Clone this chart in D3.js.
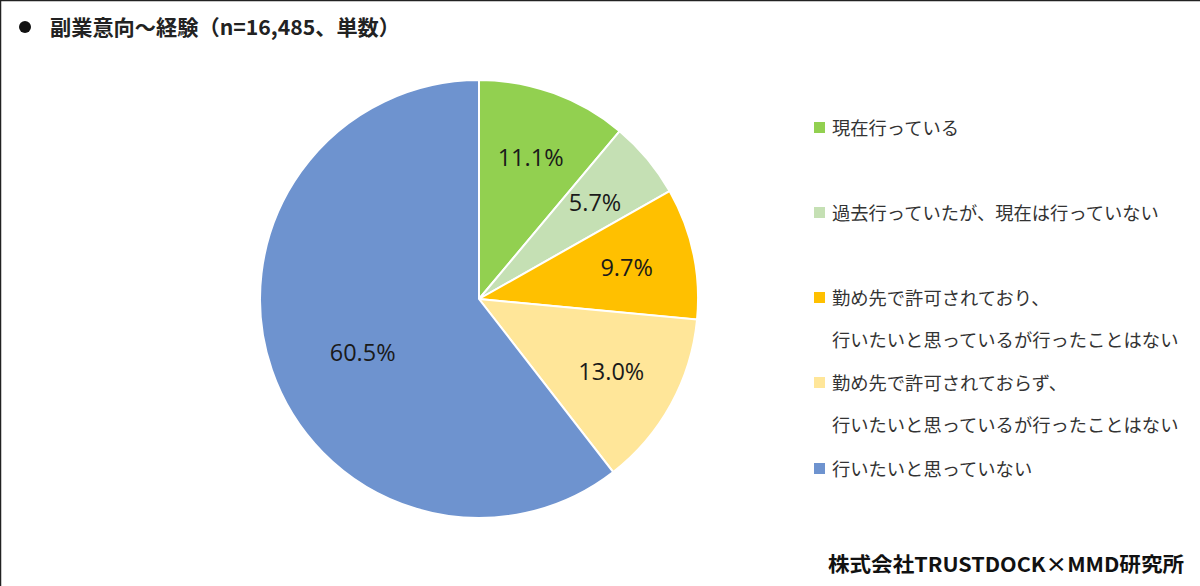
<!DOCTYPE html>
<html>
<head>
<meta charset="utf-8">
<script src="https://cdn.jsdelivr.net/npm/d3@7"></script>
<style>
  html, body { margin: 0; padding: 0; background: #fff; }
  svg { display: block; }
</style>
</head>
<body>
<svg id="chart" width="1200" height="586"></svg>
<script>
// data
const categories = [
    "現在行っている",
    "過去行っていたが、現在は行っていない",
    "勤め先で許可されており、\n行いたいと思っているが行ったことはない",
    "勤め先で許可されておらず、\n行いたいと思っているが行ったことはない",
    "行いたいと思っていない"
];
const values = [11.1, 5.7, 9.7, 13.0, 60.5];
const colors = ["#92d050", "#c5e0b4", "#ffc000", "#ffe699", "#6e93cf"];

const titleText = "副業意向～経験（n=16,485、単数）";
const sourceText = "株式会社TRUSTDOCK×MMD研究所";

const jp = "'Noto Sans CJK JP', 'Noto Sans', sans-serif";

const svg = d3.select("#chart");

// frame edges (top and left dark lines as in the screenshot)
svg.append("line").attr("x1", 0).attr("y1", 0.5).attr("x2", 1200).attr("y2", 0.5)
    .attr("stroke", "#222").attr("stroke-width", 1.5);
svg.append("line").attr("x1", 0.5).attr("y1", 0).attr("x2", 0.5).attr("y2", 586)
    .attr("stroke", "#222").attr("stroke-width", 1.5);

// title
svg.append("circle").attr("cx", 25).attr("cy", 27).attr("r", 6).attr("fill", "#111");
svg.append("text")
    .attr("x", 50).attr("y", 35)
    .attr("font-family", jp).attr("font-weight", "bold").attr("font-size", 21)
    .attr("textLength", 350).attr("lengthAdjust", "spacingAndGlyphs")
    .attr("fill", "#222")
    .text(titleText);

// pie
const cx = 479, cy = 299, radius = 219;
const data = categories.map((c, i) => ({ name: c, value: values[i], color: colors[i] }));

const pie = d3.pie().value(d => d.value).sort(null);
const arc = d3.arc().innerRadius(0).outerRadius(radius);

const g = svg.append("g").attr("transform", `translate(${cx},${cy})`);
const arcs = pie(data);

g.selectAll("path")
    .data(arcs)
    .enter().append("path")
    .attr("d", arc)
    .attr("fill", d => d.data.color)
    .attr("stroke", "#fff")
    .attr("stroke-width", 2);

g.selectAll("text.lbl")
    .data(arcs)
    .enter().append("text")
    .attr("class", "lbl")
    .attr("transform", d => {
        const r = d.data.value > 50 ? 128 : 151;
        const a = (d.startAngle + d.endAngle) / 2 - (d.data.value > 50 ? 0.1 : 0);
        return `translate(${r * Math.sin(a)},${-r * Math.cos(a)})`;
    })
    .attr("text-anchor", "middle")
    .attr("dy", "0.36em")
    .attr("font-family", "'Open Sans', 'Noto Sans', sans-serif")
    .attr("font-size", 23.5)
    .attr("fill", "#1a1a1a")
    .text(d => d3.format(".1f")(d.data.value) + "%");

// legend
const legendY = [128, 213, 298, 383, 469];
const legend = svg.append("g");
data.forEach((d, i) => {
    legend.append("rect")
        .attr("x", 814).attr("y", legendY[i] - 6)
        .attr("width", 11).attr("height", 11)
        .attr("fill", d.color);
    d.name.split("\n").forEach((line, j) => {
        legend.append("text")
            .attr("x", 832).attr("y", legendY[i] + j * 42.5)
            .attr("dy", "0.36em")
            .attr("font-family", jp)
            .attr("font-size", 18.3)
            .attr("fill", "#333")
            .text(line);
    });
});

// source
svg.append("text")
    .attr("x", 828).attr("y", 572)
    .attr("font-family", jp).attr("font-weight", "bold").attr("font-size", 20)
    .attr("textLength", 356).attr("lengthAdjust", "spacingAndGlyphs")
    .attr("fill", "#111")
    .text(sourceText);
</script>
</body>
</html>
